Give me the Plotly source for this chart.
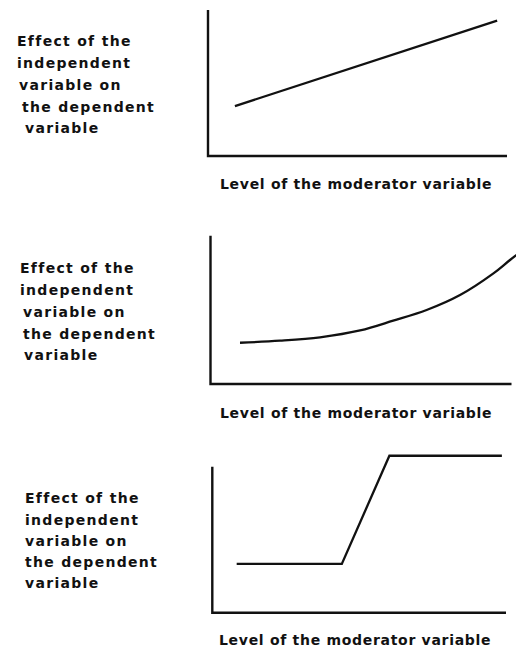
import plotly.graph_objects as go

# The page body has an 8px margin, so the figure is drawn 8px in and 8px down.
OFF = 8
W, H = 524 - OFF, 651 - OFF

# ---- data (arbitrary units, axes run 0..10) ----
p1_level = [0.90, 9.67]
p1_effect = [3.42, 9.27]

p2_level = [0.98, 2.31, 3.64, 4.97, 6.07, 7.18, 8.29, 9.40, 9.95, 10.55]
p2_effect = [2.78, 2.92, 3.15, 3.61, 4.27, 4.99, 6.00, 7.46, 8.36, 9.30]

p3_level = [0.83, 4.41, 6.03, 9.86]
p3_effect = [3.34, 3.34, 10.75, 10.75]

ylabel_lines = ["Effect of the", "independent", "variable on", "the dependent", "variable"]
xlabel_text = "Level of the moderator variable"
axis_len = 10

# ---- layout geometry (screen pixels) ----
panels = [
    dict(ox=208.0, oy=156.0, sx=29.9, sy=14.6, L=202, R=512, T=9, B=161),
    dict(ox=210.5, oy=384.0, sx=30.1, sy=14.83, L=204, R=524, T=229, B=389),
    dict(ox=212.3, oy=612.7, sx=29.37, sy=14.6, L=206, R=511, T=449, B=618),
]
series = [(p1_level, p1_effect, "linear"), (p2_level, p2_effect, "spline"), (p3_level, p3_effect, "linear")]

ylab_base = [[46, 67.7, 90, 112, 133], [272.3, 295, 316.7, 338.3, 359.3], [502.7, 525, 546, 567, 588]]
ylab_left = [[15, 15, 17, 20, 22.5], [18.3, 18.3, 20.7, 20.7, 21.7], [23, 23, 23, 23, 23]]
xlab_base = [189, 418.3, 645]
xlab_left = [218, 218, 217]


def fx(px):
    return (px - OFF) / W


def fy(py):
    return 1 - (py - OFF) / H


FONT = dict(family="DejaVu Sans", size=14, color="#111111")
INK = "#111111"

fig = go.Figure()
layout = dict(width=W, height=H, margin=dict(l=0, r=0, t=0, b=0),
              paper_bgcolor="white", plot_bgcolor="white", showlegend=False)
shapes = []
annotations = []

for i, (p, (xs, ys, shp)) in enumerate(zip(panels, series)):
    n = "" if i == 0 else str(i + 1)
    xr = [(p["L"] - p["ox"]) / p["sx"], (p["R"] - p["ox"]) / p["sx"]]
    yr = [(p["oy"] - p["B"]) / p["sy"], (p["oy"] - p["T"]) / p["sy"]]
    axcommon = dict(showgrid=False, zeroline=False, showticklabels=False, ticks="",
                    showline=False, fixedrange=True)
    layout["xaxis" + n] = dict(domain=[fx(p["L"]), min(1, fx(p["R"]))], range=xr,
                               anchor="y" + n, **axcommon)
    layout["yaxis" + n] = dict(domain=[fy(p["B"]), min(1, fy(p["T"]))], range=yr,
                               anchor="x" + n, **axcommon)
    fig.add_trace(go.Scatter(x=xs, y=ys, mode="lines", xaxis="x" + n, yaxis="y" + n,
                             line=dict(color=INK, width=2.3, shape=shp, smoothing=1.0),
                             hoverinfo="skip"))
    shapes.append(dict(type="path", xref="x" + n, yref="y" + n,
                       path=f"M {axis_len},0 L 0,0 L 0,{axis_len}",
                       line=dict(color=INK, width=2.4)))
    for txt, b, lft in zip(ylabel_lines, ylab_base[i], ylab_left[i]):
        annotations.append(dict(text=f"<span style='letter-spacing:1.3px'><b>{txt}</b></span>",
                                x=fx(lft), y=fy(b - 4.8),
                                xref="paper", yref="paper", xanchor="left", yanchor="middle",
                                showarrow=False, font=FONT))
    annotations.append(dict(text=f"<span style='letter-spacing:0.7px'><b>{xlabel_text}</b></span>",
                            x=fx(xlab_left[i]), y=fy(xlab_base[i] - 4.8),
                            xref="paper", yref="paper", xanchor="left", yanchor="middle",
                            showarrow=False, font=FONT))

layout["shapes"] = shapes
layout["annotations"] = annotations
fig.update_layout(**layout)
fig.write_html("out.html")
